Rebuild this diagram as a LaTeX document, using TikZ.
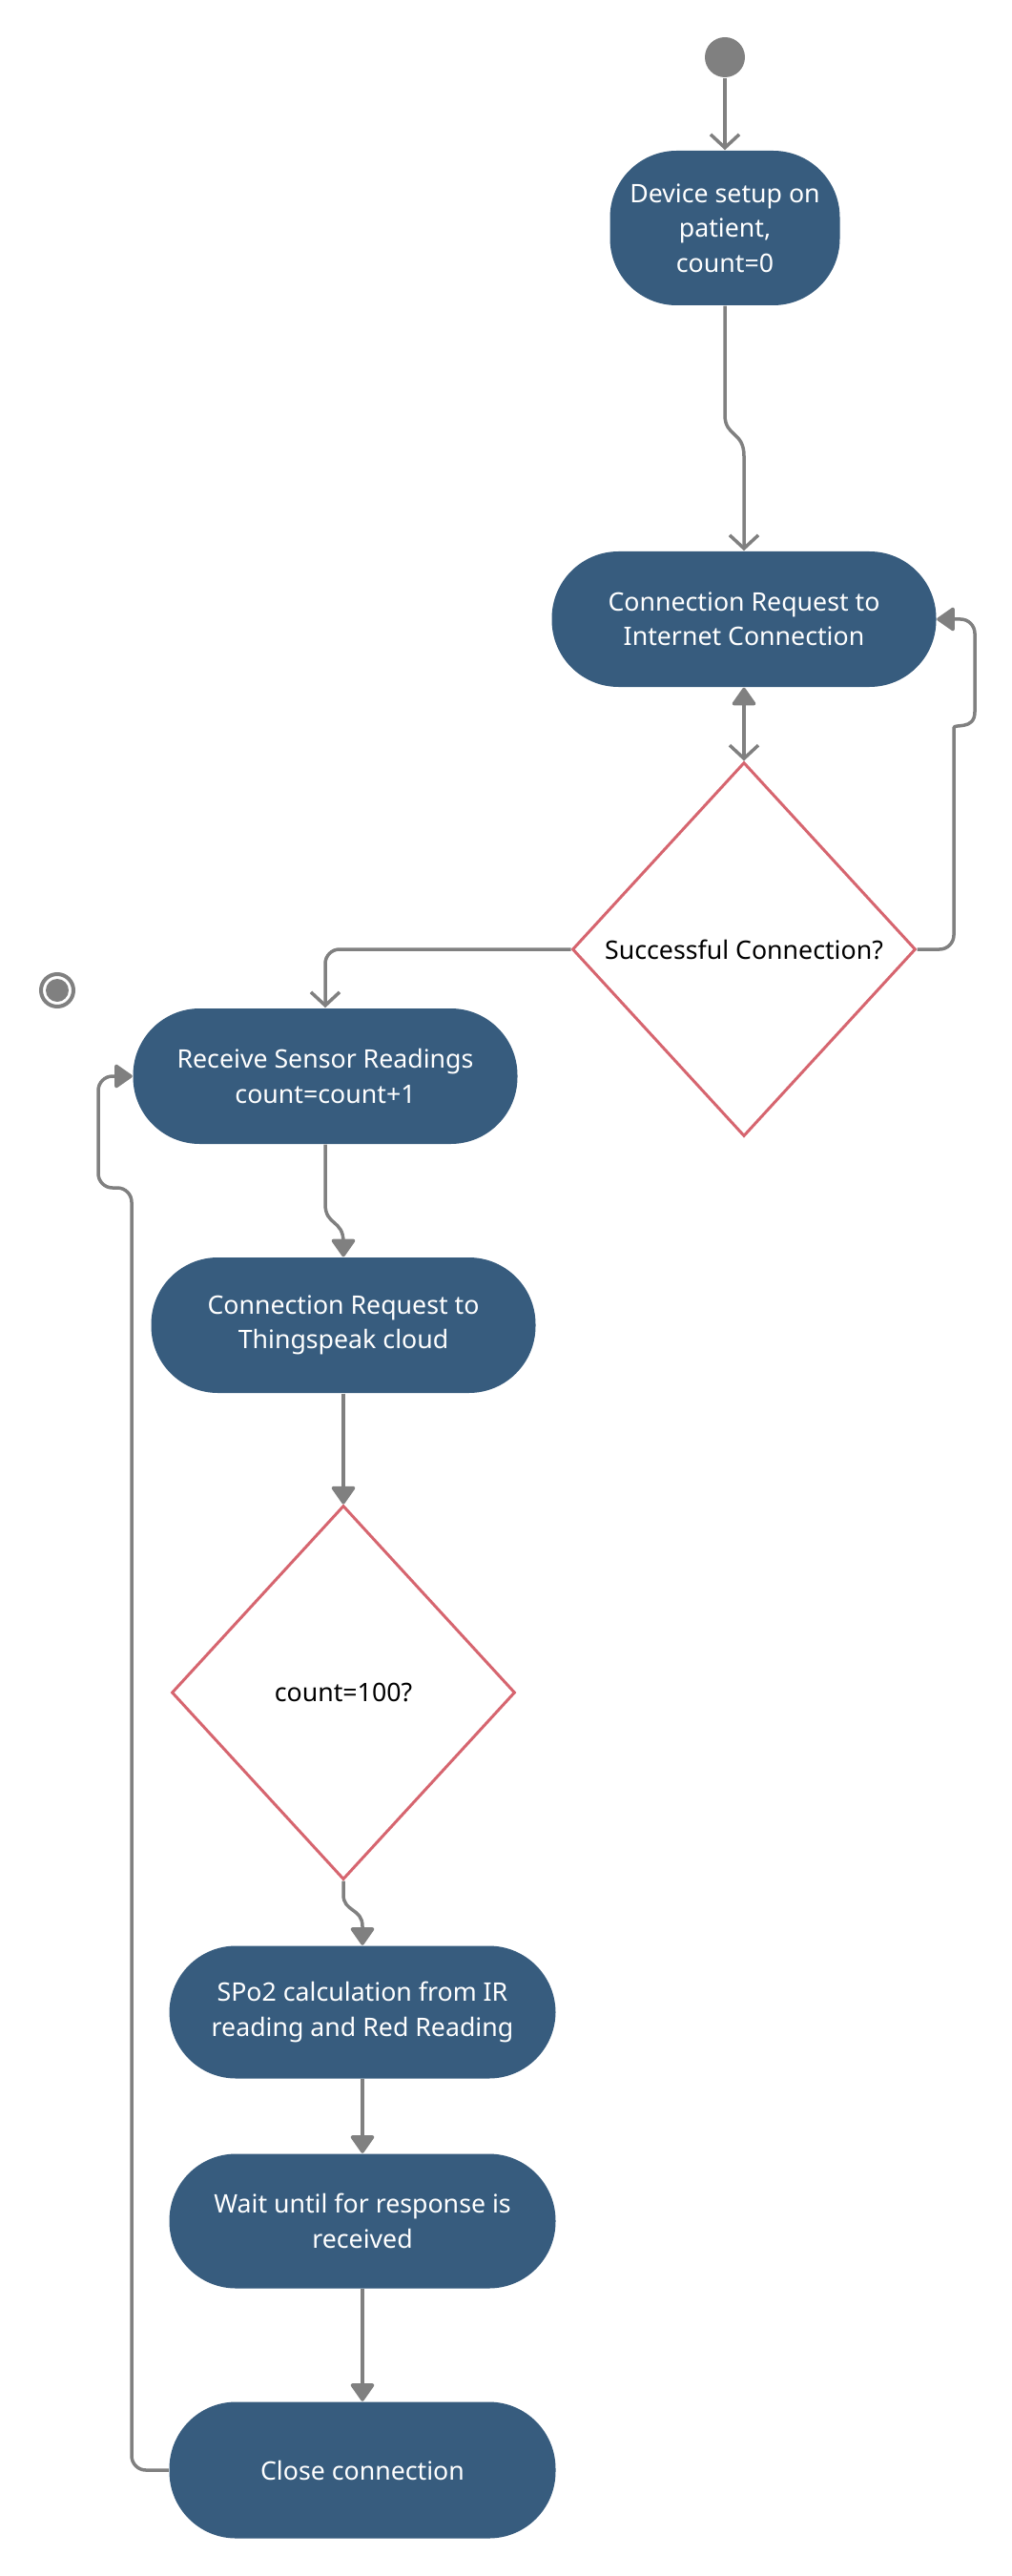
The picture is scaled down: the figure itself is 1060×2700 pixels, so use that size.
\documentclass[tikz,border=0pt]{standalone}
\usepackage{fontspec}
\setmainfont{Noto Sans}
\usepackage{xcolor}
\usetikzlibrary{arrows.meta,shapes.geometric}

\definecolor{actblue}{HTML}{375C7E}
\definecolor{decred}{HTML}{D6656F}
\definecolor{linegray}{HTML}{808080}

\begin{document}
\begin{tikzpicture}[x=0.1mm,y=-0.1mm,
    act/.style={rounded corners=7mm, fill=actblue, text=white, align=center,
      minimum width=40.3mm, minimum height=14.2mm, inner sep=0pt,
      font=\fontsize{7.6pt}{10.4pt}\selectfont},
    dec/.style={diamond, draw=decred, line width=0.3mm, aspect=0.918,
      minimum width=36mm, minimum height=39.2mm, inner sep=0pt,
      font=\fontsize{7.6pt}{10.4pt}\selectfont},
    flow/.style={draw=linegray, line width=0.35mm},
    elbow/.style={rounded corners=1.5mm},
    vtip/.style={arrows={-Straight Barb[length=1.4mm,width=3mm]}},
    ttip/.style={arrows={-Triangle[length=2mm,width=2.7mm,round]}},
    bothtip/.style={arrows={Triangle[length=2mm,width=2.7mm,round]-Straight Barb[length=1.4mm,width=3mm]}}]

    \useasboundingbox (0,0) rectangle (1060,2700);

    % start and end
    \node (start) [circle, fill=linegray, minimum size=4.2mm, inner sep=0pt] at (760,60) {};
    \node (stop) [circle, fill=linegray, minimum size=2.4mm, inner sep=0pt] at (60,1038) {};
    \draw[linegray, line width=0.4mm] (stop) circle[radius=1.7mm];

    % activities
    \node (setup) [act, minimum width=24.1mm, minimum height=16.2mm] at (760,239) {Device setup on\\patient,\\count=0};
    \node (inet)  [act] at (780,649) {Connection Request to\\Internet Connection};
    \node (conn)  [dec] at (780,995) {Successful Connection?};
    \node (rx)    [act] at (341,1128) {Receive Sensor Readings\\count=count+1};
    \node (thing) [act] at (360,1389) {Connection Request to\\Thingspeak cloud};
    \node (cnt)   [dec] at (360,1774) {count=100?};
    \node (spo)   [act, minimum width=40.5mm, minimum height=13.9mm] at (380,2109) {SPo2 calculation from IR\\reading and Red Reading};
    \node (wait)  [act, minimum width=40.5mm, minimum height=14.1mm] at (380,2328) {Wait until for response is\\received};
    \node (close) [act, minimum width=40.5mm, minimum height=14.3mm] at (380,2589) {Close connection};

    % connectors
    \draw[flow,vtip] (start.south) -- (setup.north);
    \draw[flow,vtip] (setup.south) -- (760,435) .. controls (760,458) and (780,452) .. (780,478) -- (inet.north);
    \draw[flow,bothtip] (inet.south) -- (conn.north);
    \draw[flow,ttip] (conn.east) [elbow] -- (1000,995) -- (1000,778) [sharp corners] .. controls (1000,758) and (1022,766) .. (1022,746) [elbow] -- (1022,649) -- (inet.east);
    \draw[flow,vtip,elbow] (conn.west) -| (rx.north);

    \draw[flow,ttip] (rx.south) -- (341,1262) .. controls (341,1285) and (360,1278) .. (360,1302) -- (thing.north);
    \draw[flow,ttip] (thing.south) -- (cnt.north);
    \draw[flow,ttip] (cnt.south) -- (360,1986) .. controls (360,2004) and (380,2000) .. (380,2019) -- (spo.north);
    \draw[flow,ttip] (spo.south) -- (wait.north);
    \draw[flow,ttip] (wait.south) -- (close.north);
    \draw[flow,ttip,elbow] (close.west) -- (138,2589) -- (138,1245) -- (103,1245) -- (103,1128) -- (rx.west);
\end{tikzpicture}
\end{document}
